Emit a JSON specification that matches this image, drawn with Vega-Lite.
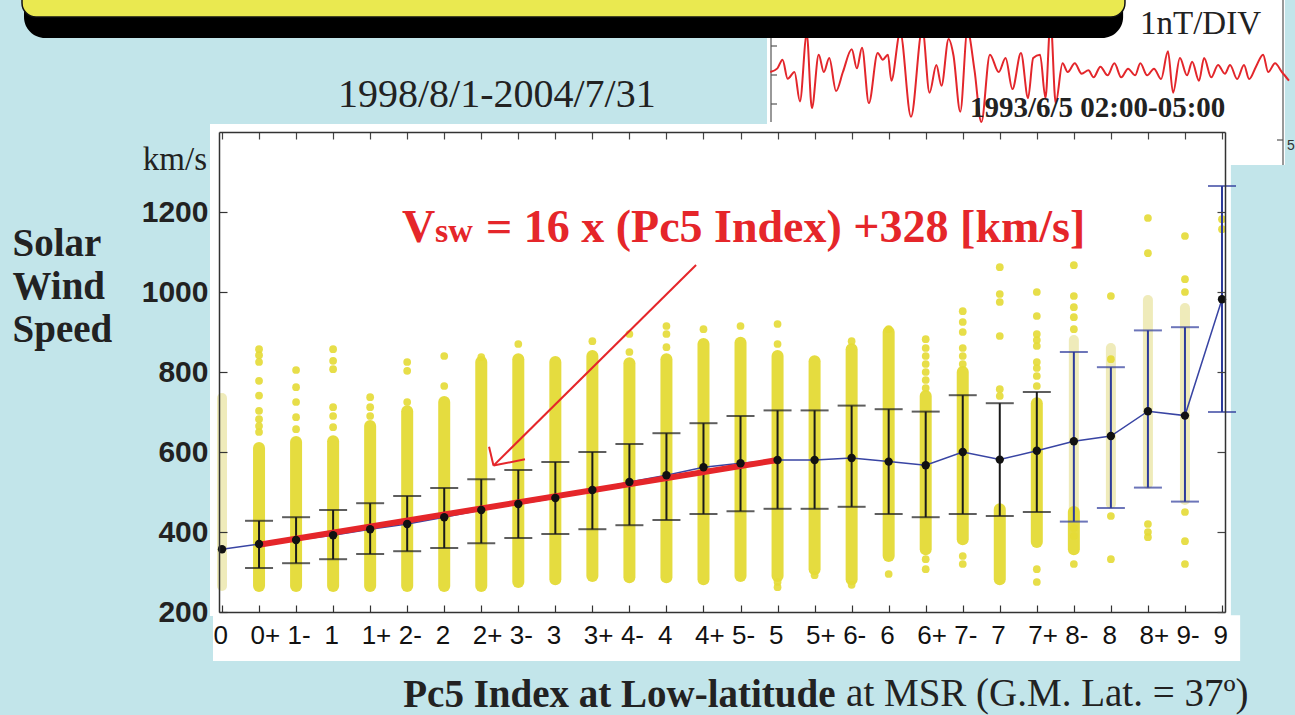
{
"$schema": "https://vega.github.io/schema/vega-lite/v6.json",
"width": 1006, "height": 480,
"autosize": {"type": "none"},
"padding": {"left": 219, "top": 132, "right": 70, "bottom": 103},
"background": "#c2e5ea",
"config": {"view": {"stroke": null, "fill": null}, "axis": {"labelOverlap": false}},
"datasets": {
"means": [
{"i":0,"c":"0","v":357},
{"i":1,"c":"0+","v":370,"lo":310,"hi":428},
{"i":2,"c":"1-","v":380,"lo":322,"hi":437},
{"i":3,"c":"1","v":392,"lo":332,"hi":455},
{"i":4,"c":"1+","v":407,"lo":345,"hi":472},
{"i":5,"c":"2-","v":420,"lo":352,"hi":490},
{"i":6,"c":"2","v":437,"lo":360,"hi":510},
{"i":7,"c":"2+","v":455,"lo":372,"hi":532},
{"i":8,"c":"3-","v":470,"lo":385,"hi":555},
{"i":9,"c":"3","v":485,"lo":395,"hi":575},
{"i":10,"c":"3+","v":505,"lo":407,"hi":600},
{"i":11,"c":"4-","v":525,"lo":417,"hi":620},
{"i":12,"c":"4","v":542,"lo":430,"hi":647},
{"i":13,"c":"4+","v":562,"lo":445,"hi":672},
{"i":14,"c":"5-","v":572,"lo":452,"hi":690},
{"i":15,"c":"5","v":580,"lo":458,"hi":704},
{"i":16,"c":"5+","v":580,"lo":458,"hi":704},
{"i":17,"c":"6-","v":585,"lo":463,"hi":716},
{"i":18,"c":"6","v":576,"lo":445,"hi":707},
{"i":19,"c":"6+","v":567,"lo":437,"hi":701},
{"i":20,"c":"7-","v":600,"lo":445,"hi":742},
{"i":21,"c":"7","v":581,"lo":440,"hi":722},
{"i":22,"c":"7+","v":603,"lo":450,"hi":750},
{"i":23,"c":"8-","v":627,"lo":426,"hi":850},
{"i":24,"c":"8","v":640,"lo":460,"hi":812},
{"i":25,"c":"8+","v":702,"lo":511,"hi":904},
{"i":26,"c":"9-","v":691,"lo":476,"hi":912},
{"i":27,"c":"9","v":982,"lo":700,"hi":1265}
],
"fit": [{"i":1,"v":368},{"i":15,"v":580}],
"dense": [
{"i":1,"lo":265,"hi":610},{"i":2,"lo":265,"hi":625},{"i":3,"lo":265,"hi":627},{"i":4,"lo":265,"hi":665},
{"i":5,"lo":265,"hi":702},{"i":6,"lo":265,"hi":725},{"i":7,"lo":265,"hi":825},{"i":8,"lo":275,"hi":832},
{"i":9,"lo":282,"hi":825},{"i":10,"lo":290,"hi":840},{"i":11,"lo":287,"hi":822},{"i":12,"lo":287,"hi":832},
{"i":13,"lo":282,"hi":870},{"i":14,"lo":290,"hi":873},{"i":15,"lo":290,"hi":840},{"i":16,"lo":307,"hi":827},
{"i":17,"lo":282,"hi":857},{"i":18,"lo":340,"hi":900},{"i":19,"lo":357,"hi":740},{"i":20,"lo":382,"hi":800},
{"i":21,"lo":282,"hi":457},{"i":22,"lo":375,"hi":722},{"i":23,"lo":357,"hi":450}
],
"faint": [
{"i":0,"lo":265,"hi":735},{"i":23,"lo":460,"hi":880},{"i":24,"lo":470,"hi":860},{"i":25,"lo":520,"hi":980},{"i":26,"lo":480,"hi":960}
],
"dots": [
{"i":1,"v":650},{"i":1,"v":665},{"i":1,"v":682},{"i":1,"v":703},{"i":1,"v":741},{"i":1,"v":778},{"i":1,"v":825},{"i":1,"v":842},{"i":1,"v":857},
{"i":2,"v":657},{"i":2,"v":687},{"i":2,"v":725},{"i":2,"v":762},{"i":2,"v":805},
{"i":3,"v":662},{"i":3,"v":690},{"i":3,"v":712},{"i":3,"v":807},{"i":3,"v":828},{"i":3,"v":857},
{"i":4,"v":690},{"i":4,"v":712},{"i":4,"v":737},
{"i":5,"v":725},{"i":5,"v":803},{"i":5,"v":825},
{"i":6,"v":765},{"i":6,"v":840},
{"i":7,"v":837},{"i":8,"v":870},{"i":10,"v":877},
{"i":11,"v":850},{"i":11,"v":895},
{"i":12,"v":862},{"i":12,"v":895},{"i":12,"v":915},
{"i":13,"v":907},{"i":14,"v":915},
{"i":15,"v":870},{"i":15,"v":920},{"i":15,"v":275},{"i":15,"v":262},
{"i":16,"v":292},
{"i":17,"v":877},{"i":17,"v":268},
{"i":18,"v":907},{"i":18,"v":295},
{"i":19,"v":760},{"i":19,"v":780},{"i":19,"v":800},{"i":19,"v":820},{"i":19,"v":840},{"i":19,"v":860},{"i":19,"v":882},{"i":19,"v":332},{"i":19,"v":307},
{"i":20,"v":820},{"i":20,"v":840},{"i":20,"v":860},{"i":20,"v":900},{"i":20,"v":925},{"i":20,"v":952},{"i":20,"v":340},{"i":20,"v":320},
{"i":21,"v":740},{"i":21,"v":757},{"i":21,"v":890},{"i":21,"v":975},{"i":21,"v":995},{"i":21,"v":1062},
{"i":22,"v":765},{"i":22,"v":790},{"i":22,"v":810},{"i":22,"v":825},{"i":22,"v":865},{"i":22,"v":880},{"i":22,"v":895},{"i":22,"v":940},{"i":22,"v":1000},{"i":22,"v":307},{"i":22,"v":275},
{"i":23,"v":907},{"i":23,"v":937},{"i":23,"v":962},{"i":23,"v":990},{"i":23,"v":1067},{"i":23,"v":320},{"i":23,"v":390},{"i":23,"v":410},
{"i":24,"v":440},{"i":24,"v":332},{"i":24,"v":832},{"i":24,"v":990},
{"i":25,"v":1185},{"i":25,"v":1097},{"i":25,"v":420},{"i":25,"v":400},{"i":25,"v":387},
{"i":26,"v":1140},{"i":26,"v":1032},{"i":26,"v":1000},{"i":26,"v":450},{"i":26,"v":377},{"i":26,"v":320},
{"i":27,"v":1182},{"i":27,"v":1157}
],
"wave": [
{"t":0.1,"b":0},{"t":2.6,"b":0.13},{"t":4.4,"b":0.44},{"t":6.2,"b":-0.24},{"t":8.6,"b":0},{"t":10.5,"b":-1.05},
{"t":12.9,"b":1.36},{"t":14.7,"b":-1.29},{"t":17.1,"b":0.62},{"t":18.9,"b":0},{"t":20.8,"b":0.5},{"t":23.2,"b":-0.68},
{"t":25.6,"b":0},{"t":28.7,"b":0.81},{"t":30.5,"b":0.13},{"t":32.3,"b":0.87},{"t":34.7,"b":-1.11},{"t":37.8,"b":0.68},
{"t":39.6,"b":0.44},{"t":41.4,"b":0.62},{"t":42.6,"b":-0.31},{"t":45.7,"b":1.42},{"t":49.5,"b":-1.6},{"t":53.5,"b":1.55},
{"t":56.0,"b":-0.74},{"t":58.4,"b":0.25},{"t":60.2,"b":-0.49},{"t":62.7,"b":1.18},{"t":64.4,"b":0.6},{"t":66.8,"b":-1.42},
{"t":69.3,"b":1.49},{"t":71.8,"b":0.06},{"t":74.2,"b":-1.79},{"t":77.2,"b":0.62},{"t":80.3,"b":0},{"t":82.7,"b":0.5},
{"t":85.1,"b":-0.61},{"t":88.1,"b":0.68},{"t":90.6,"b":-0.93},{"t":92.4,"b":0.5},{"t":94.8,"b":0.62},{"t":96.7,"b":-0.93},
{"t":98.5,"b":1.86},{"t":100.3,"b":-1.11},{"t":102.7,"b":0.31},{"t":104.5,"b":0},{"t":107,"b":0.31},{"t":109.4,"b":-0.06},
{"t":111.8,"b":0.06},{"t":113.6,"b":-0.19},{"t":116,"b":0.19},{"t":118.5,"b":-0.12},{"t":120.9,"b":0.31},{"t":123.3,"b":-0.19},
{"t":125.7,"b":0.12},{"t":128.2,"b":-0.12},{"t":130,"b":0.31},{"t":132.4,"b":-0.12},{"t":134.8,"b":0.12},{"t":137.3,"b":-0.25},
{"t":139.7,"b":0.74},{"t":141.5,"b":-0.74},{"t":143.9,"b":0.5},{"t":146.4,"b":-0.12},{"t":148.2,"b":0.37},{"t":150.6,"b":-0.31},
{"t":152.4,"b":0.5},{"t":154.9,"b":-0.19},{"t":157.3,"b":0.25},{"t":159.7,"b":-0.06},{"t":161.5,"b":0.25},{"t":164,"b":-0.25},
{"t":166.4,"b":0.25},{"t":168.2,"b":-0.25},{"t":170.6,"b":0.19},{"t":173.1,"b":0.62},{"t":174.9,"b":0},{"t":177.3,"b":0.31},
{"t":179.7,"b":0},{"t":182.2,"b":-0.31}
]
},
"resolve": {"scale": {"x": "independent", "y": "independent"}},
"layer": [
{
"layer": [
{"data": {"values": [{}]}, "mark": {"type": "rect", "color": "white"}, "encoding": {"x": {"datum": -0.324}, "x2": {"datum": 27.24}, "y": {"datum": 1420}, "y2": {"datum": 190}}},
{"data": {"values": [{}]}, "mark": {"type": "rect", "color": "white"}, "encoding": {"x": {"datum": -0.243}, "x2": {"datum": 27.49}, "y": {"datum": 192}, "y2": {"datum": 77.5}}},
{"data": {"values": [{}]}, "mark": {"type": "rect", "color": "white"}, "encoding": {"x": {"datum": 14.715}, "x2": {"datum": 28.7}, "y": {"datum": 1745}, "y2": {"datum": 1415}}},
{"data": {"values": [{}]}, "mark": {"type": "rect", "color": "white"}, "encoding": {"x": {"datum": 27.19}, "x2": {"datum": 28.7}, "y": {"datum": 1420}, "y2": {"datum": 1317.5}}},
{"data": {"values": [{}]}, "mark": {"type": "rule", "color": "#555", "strokeWidth": 1.2}, "encoding": {"x": {"datum": 14.823}, "y": {"datum": 1730}, "y2": {"datum": 1425}}},
{"data": {"values": [{}]}, "mark": {"type": "rule", "color": "#555", "strokeWidth": 1.2}, "encoding": {"x": {"datum": 14.823}, "x2": {"datum": 14.985}, "y": {"datum": 1615}}},
{"data": {"values": [{}]}, "mark": {"type": "rule", "color": "#555", "strokeWidth": 1.2}, "encoding": {"x": {"datum": 14.823}, "x2": {"datum": 14.985}, "y": {"datum": 1542.5}}},
{"data": {"values": [{}]}, "mark": {"type": "rule", "color": "#555", "strokeWidth": 1.2}, "encoding": {"x": {"datum": 14.823}, "x2": {"datum": 14.985}, "y": {"datum": 1470}}},
{"data": {"values": [{}]}, "mark": {"type": "rule", "color": "#555", "strokeWidth": 1.2}, "encoding": {"x": {"datum": 28.647}, "y": {"datum": 1730}, "y2": {"datum": 1317.5}}},
{"data": {"values": [{}]}, "mark": {"type": "rule", "color": "#555", "strokeWidth": 1.2}, "encoding": {"x": {"datum": 28.485}, "x2": {"datum": 28.647}, "y": {"datum": 1380}}},
{"data": {"values": [{}]}, "mark": {"type": "text", "text": "5", "font": "Liberation Sans", "fontSize": 14, "color": "#333", "align": "left", "baseline": "alphabetic"}, "encoding": {"x": {"datum": 28.755}, "y": {"datum": 1355}}},
{"data": {"name": "faint"}, "mark": {"type": "rule", "strokeWidth": 10, "strokeCap": "round", "color": "#e8e39c", "opacity": 0.7}, "encoding": {"x": {"field": "i", "type": "quantitative"}, "y": {"field": "lo", "type": "quantitative"}, "y2": {"field": "hi"}}},
{"data": {"name": "dense"}, "mark": {"type": "rule", "strokeWidth": 12, "strokeCap": "round", "color": "#e4da35", "opacity": 0.95}, "encoding": {"x": {"field": "i", "type": "quantitative"}, "y": {"field": "lo", "type": "quantitative"}, "y2": {"field": "hi"}}},
{"data": {"name": "dots"}, "mark": {"type": "circle", "size": 60, "color": "#e4da35", "opacity": 0.9}, "encoding": {"x": {"field": "i", "type": "quantitative"}, "y": {"field": "v", "type": "quantitative"}}},
{"data": {"name": "means"}, "mark": {"type": "rule", "strokeWidth": 2}, "encoding": {"x": {"field": "i", "type": "quantitative"}, "y": {"field": "lo", "type": "quantitative"}, "y2": {"field": "hi"}, "color": {"condition": {"test": "datum.i >= 23", "value": "#2d3b9b"}, "value": "#1a1a1a"}}},
{"data": {"name": "means"}, "mark": {"type": "tick", "orient": "horizontal", "size": 28, "thickness": 2}, "encoding": {"x": {"field": "i", "type": "quantitative"}, "y": {"field": "lo", "type": "quantitative"}, "color": {"condition": {"test": "datum.i >= 23", "value": "#2d3b9b"}, "value": "#1a1a1a"}}},
{"data": {"name": "means"}, "mark": {"type": "tick", "orient": "horizontal", "size": 28, "thickness": 2}, "encoding": {"x": {"field": "i", "type": "quantitative"}, "y": {"field": "hi", "type": "quantitative"}, "color": {"condition": {"test": "datum.i >= 23", "value": "#2d3b9b"}, "value": "#1a1a1a"}}},
{"data": {"name": "means"}, "mark": {"type": "line", "color": "#3844a3", "strokeWidth": 1.5}, "encoding": {"x": {"field": "i", "type": "quantitative"}, "y": {"field": "v", "type": "quantitative"}}},
{"data": {"name": "fit"}, "mark": {"type": "line", "color": "#e5262a", "strokeWidth": 6, "strokeCap": "butt"}, "encoding": {"x": {"field": "i", "type": "quantitative"}, "y": {"field": "v", "type": "quantitative"}}},
{"data": {"name": "means"}, "mark": {"type": "circle", "size": 70, "color": "#111", "opacity": 1},
 "encoding": {
  "x": {"field": "i", "type": "quantitative", "scale": {"domain": [-0.081, 27.081], "nice": false, "zero": false},
   "axis": {"values": [0,1,2,3,4,5,6,7,8,9,10,11,12,13,14,15,16,17,18,19,20,21,22,23,24,25,26,27], "tickCount": 100,
    "labelExpr": "['0','0+','1-','1','1+','2-','2','2+','3-','3','3+','4-','4','4+','5-','5','5+','6-','6','6+','7-','7','7+','8-','8','8+','9-','9'][datum.value]",
    "labelFont": "Liberation Sans", "labelFontSize": 26, "labelColor": "#111",
    "labelAlign": "left", "labelOffset": -9, "labelPadding": 17, "labelBaseline": "top",
    "labelFlush": false, "labelOverlap": false, "labelBound": false, "labelSeparation": 0,
    "tickSize": -7, "tickColor": "#333", "tickWidth": 1.2, "domainColor": "#333", "domainWidth": 1.5, "grid": false, "zindex": 1,
    "title": "Pc5 Index at Low-latitude", "titleFont": "Liberation Serif", "titleFontWeight": "bold", "titleFontSize": 39, "titleColor": "#222",
    "titleAlign": "right", "titleX": 616, "titleY": 94, "titleBaseline": "alphabetic"}},
  "y": {"field": "v", "type": "quantitative", "scale": {"domain": [200, 1400], "nice": false, "zero": false},
   "axis": {"values": [200,400,600,800,1000,1200], "tickCount": 100, "format": "d",
    "labelFont": "Liberation Sans", "labelFontWeight": "bold", "labelFontSize": 30, "labelColor": "#222", "labelPadding": 19, "labelBaseline": "middle",
    "tickSize": -8, "tickColor": "#333", "tickWidth": 1.2, "domainColor": "#333", "domainWidth": 1.5, "grid": false, "zindex": 1,
    "title": ["Solar", "Wind", "Speed"], "titleFont": "Liberation Serif", "titleFontWeight": "bold", "titleFontSize": 39, "titleColor": "#222",
    "titleAngle": 0, "titleAlign": "left", "titleBaseline": "alphabetic", "titleX": -207, "titleY": 123, "titleLineHeight": 43}}
 }},
{"data": {"values": [{}]}, "mark": {"type": "rule", "color": "#e5262a", "strokeWidth": 2}, "encoding": {"x": {"datum": 7.33}, "x2": {"datum": 12.8}, "y": {"datum": 566}, "y2": {"datum": 1067.5}}},
{"data": {"values": [{}]}, "mark": {"type": "rule", "color": "#e5262a", "strokeWidth": 2}, "encoding": {"x": {"datum": 7.33}, "x2": {"datum": 7.21}, "y": {"datum": 566}, "y2": {"datum": 613}}},
{"data": {"values": [{}]}, "mark": {"type": "rule", "color": "#e5262a", "strokeWidth": 2}, "encoding": {"x": {"datum": 7.33}, "x2": {"datum": 8.18}, "y": {"datum": 566}, "y2": {"datum": 582}}},
{"data": {"values": [{}]}, "mark": {"type": "text", "text": "1998/8/1-2004/7/31", "font": "Liberation Serif", "fontSize": 40, "color": "#222", "align": "left", "baseline": "alphabetic"}, "encoding": {"x": {"datum": 3.13}, "y": {"datum": 1462.5}}},
{"data": {"values": [{}]}, "mark": {"type": "text", "text": "km/s", "font": "Liberation Serif", "fontSize": 33, "color": "#222", "align": "right", "baseline": "alphabetic"}, "encoding": {"x": {"datum": -0.405}, "y": {"datum": 1305}}},
{"data": {"values": [{}]}, "mark": {"type": "text", "text": "V", "font": "Liberation Serif", "fontWeight": "bold", "fontSize": 46, "color": "#e5262a", "align": "left", "baseline": "alphabetic"}, "encoding": {"x": {"datum": 4.86}, "y": {"datum": 1125}}},
{"data": {"values": [{}]}, "mark": {"type": "text", "text": "sw", "font": "Liberation Serif", "fontWeight": "bold", "fontSize": 34, "color": "#e5262a", "align": "left", "baseline": "alphabetic"}, "encoding": {"x": {"datum": 5.751}, "y": {"datum": 1125}}},
{"data": {"values": [{}]}, "mark": {"type": "text", "text": "= 16 x (Pc5 Index) +328 [km/s]", "font": "Liberation Serif", "fontWeight": "bold", "fontSize": 46, "color": "#e5262a", "align": "left", "baseline": "alphabetic"}, "encoding": {"x": {"datum": 7.128}, "y": {"datum": 1125}}},
{"data": {"values": [{}]}, "mark": {"type": "text", "text": "at MSR (G.M. Lat. = 37º)", "font": "Liberation Serif", "fontSize": 39, "color": "#222", "align": "left", "baseline": "alphabetic"}, "encoding": {"x": {"datum": 16.85}, "y": {"datum": -35}}}
]
},
{"data": {"name": "wave"}, "mark": {"type": "line", "color": "#e3262b", "strokeWidth": 2, "interpolate": "monotone"},
 "encoding": {
  "x": {"field": "t", "type": "quantitative", "scale": {"domain": [0, 182.2], "range": [551, 1070], "nice": false, "zero": false}, "axis": null},
  "y": {"field": "b", "type": "quantitative", "scale": {"domain": [-2, 2], "range": [-4, -116], "nice": false, "zero": false}, "axis": null}
 }},
{
"layer": [
{"data": {"values": [{}]}, "mark": {"type": "rect", "color": "#000", "cornerRadiusBottomLeft": 21, "cornerRadiusBottomRight": 21},
 "encoding": {
  "x": {"datum": -5.346, "scale": {"domain": [-0.081, 27.081], "nice": false, "zero": false},
   "axis": {"orient": "top", "values": [0,1,2,3,4,5,6,7,8,9,10,11,12,13,14,15,16,17,18,19,20,21,22,23,24,25,26,27], "tickCount": 100, "labels": false, "tickSize": -7, "tickColor": "#444", "tickWidth": 1.2, "domainColor": "#333", "domainWidth": 1.5, "grid": false, "title": null, "zindex": 1}},
  "x2": {"datum": 24.33},
  "y": {"datum": 1742.5, "scale": {"domain": [200, 1400], "nice": false, "zero": false},
   "axis": {"orient": "right", "values": [200,400,600,800,1000,1200], "tickCount": 100, "labels": false, "tickSize": -8, "tickColor": "#444", "tickWidth": 1.2, "domainColor": "#333", "domainWidth": 1.5, "grid": false, "title": null, "zindex": 1}},
  "y2": {"datum": 1635}
 }},
{"data": {"values": [{}]}, "mark": {"type": "rect", "color": "#eae950", "stroke": "#111", "strokeWidth": 1.5, "cornerRadius": 14},
 "encoding": {"x": {"datum": -5.4, "scale": {"domain": [-0.081, 27.081], "nice": false, "zero": false}}, "x2": {"datum": 24.38}, "y": {"datum": 1780, "scale": {"domain": [200, 1400], "nice": false, "zero": false}}, "y2": {"datum": 1687.5}}},
{"data": {"values": [{}]}, "mark": {"type": "text", "text": "1nT/DIV", "font": "Liberation Serif", "fontSize": 33, "color": "#222", "align": "left", "baseline": "alphabetic"},
 "encoding": {"x": {"datum": 24.786, "scale": {"domain": [-0.081, 27.081], "nice": false, "zero": false}}, "y": {"datum": 1645, "scale": {"domain": [200, 1400], "nice": false, "zero": false}}}},
{"data": {"values": [{}]}, "mark": {"type": "text", "text": "1993/6/5 02:00-05:00", "font": "Liberation Serif", "fontWeight": "bold", "fontSize": 29, "color": "#222", "align": "left", "baseline": "alphabetic"},
 "encoding": {"x": {"datum": 20.196, "scale": {"domain": [-0.081, 27.081], "nice": false, "zero": false}}, "y": {"datum": 1437.5, "scale": {"domain": [200, 1400], "nice": false, "zero": false}}}}
]
}
]
}
